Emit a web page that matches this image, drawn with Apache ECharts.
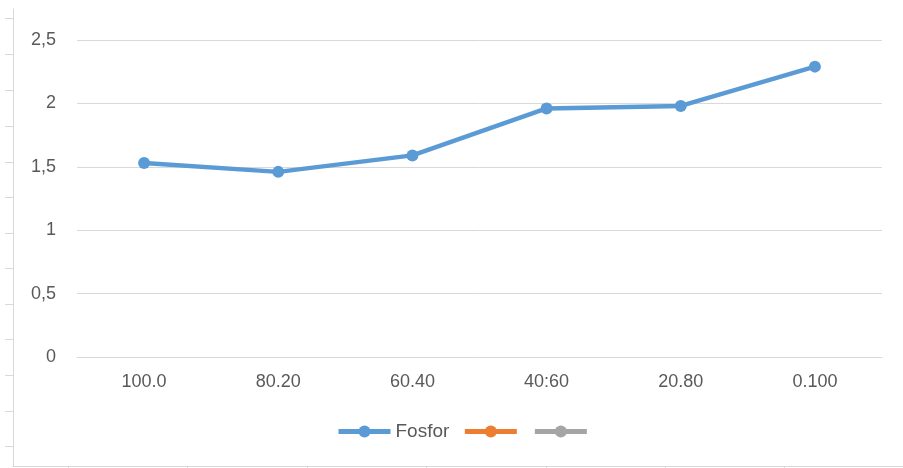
<!DOCTYPE html>
<html>
<head>
<meta charset="utf-8">
<script src="https://cdn.jsdelivr.net/npm/echarts@6/dist/echarts.min.js"></script>
<style>
  html, body { margin: 0; padding: 0; background: #fff; }
  #chart { width: 903px; height: 468px; }
</style>
</head>
<body>
<div id="chart"></div>
<script>
// data
var categories = ["100.0", "80.20", "60.40", "40:60", "20.80", "0.100"];
var fosfor = [1.53, 1.46, 1.59, 1.96, 1.98, 2.29];
var series2 = [];
var series3 = [];

// faint frame around the picture (sheet border ticks), in px
var frameTicksY = [9, 45, 81, 117, 153, 188, 224, 259, 295, 330, 366, 402, 437];
var frameTicksX = [55, 174, 294, 413, 533, 652, 771];

var chart = echarts.init(document.getElementById("chart"));
var font = "Liberation Sans";

chart.setOption({
  animation: false,
  textStyle: { fontFamily: font },
  grid: [
    { left: 77, right: 21, top: 40, bottom: 111 },
    { left: 13, right: 0, top: 9, bottom: 2 }
  ],
  legend: {
    top: 417,
    left: 331,
    itemWidth: 52,
    itemHeight: 15,
    itemGap: 13,
    lineStyle: { width: 5 },
    formatter: function (name) { return name.trim(); },
    textStyle: { color: "#595959", fontSize: 19, fontFamily: font },
    data: ["Fosfor", " ", "  "]
  },
  xAxis: [
    {
      type: "category",
      data: categories,
      boundaryGap: true,
      axisLine: { show: true, lineStyle: { color: "#d9d9d9", width: 1 } },
      axisTick: { show: false },
      axisLabel: { color: "#595959", fontSize: 18, margin: 16 }
    },
    {
      type: "value",
      gridIndex: 1,
      position: "bottom",
      min: 0,
      max: 890,
      axisLine: { show: true, onZero: false, lineStyle: { color: "#d9d9d9" } },
      axisTick: { show: true, length: 4, customValues: frameTicksX, lineStyle: { color: "#d9d9d9" } },
      axisLabel: { show: false },
      splitLine: { show: false }
    }
  ],
  yAxis: [
    {
      type: "value",
      min: 0,
      max: 2.5,
      interval: 0.5,
      axisLine: { show: false },
      axisTick: { show: false },
      axisLabel: {
        color: "#595959",
        fontSize: 18,
        margin: 21,
        formatter: function (v) { return String(v).replace(".", ","); }
      },
      splitLine: { lineStyle: { color: "#d9d9d9", width: 1 } }
    },
    {
      type: "value",
      gridIndex: 1,
      inverse: true,
      min: 0,
      max: 457,
      axisLine: { show: true, onZero: false, lineStyle: { color: "#d9d9d9" } },
      axisTick: { show: true, length: 8, customValues: frameTicksY, lineStyle: { color: "#d9d9d9" } },
      axisLabel: { show: false },
      splitLine: { show: false }
    }
  ],
  series: [
    {
      name: "Fosfor",
      type: "line",
      data: fosfor,
      color: "#5b9bd5",
      lineStyle: { width: 4.5, color: "#5b9bd5" },
      symbol: "circle",
      symbolSize: 12,
      itemStyle: { color: "#5b9bd5" }
    },
    {
      name: " ",
      type: "line",
      data: series2,
      color: "#ed7d31",
      lineStyle: { width: 4.5, color: "#ed7d31" },
      symbol: "circle",
      symbolSize: 12,
      itemStyle: { color: "#ed7d31" }
    },
    {
      name: "  ",
      type: "line",
      data: series3,
      color: "#a5a5a5",
      lineStyle: { width: 4.5, color: "#a5a5a5" },
      symbol: "circle",
      symbolSize: 12,
      itemStyle: { color: "#a5a5a5" }
    }
  ]
});
</script>
</body>
</html>
